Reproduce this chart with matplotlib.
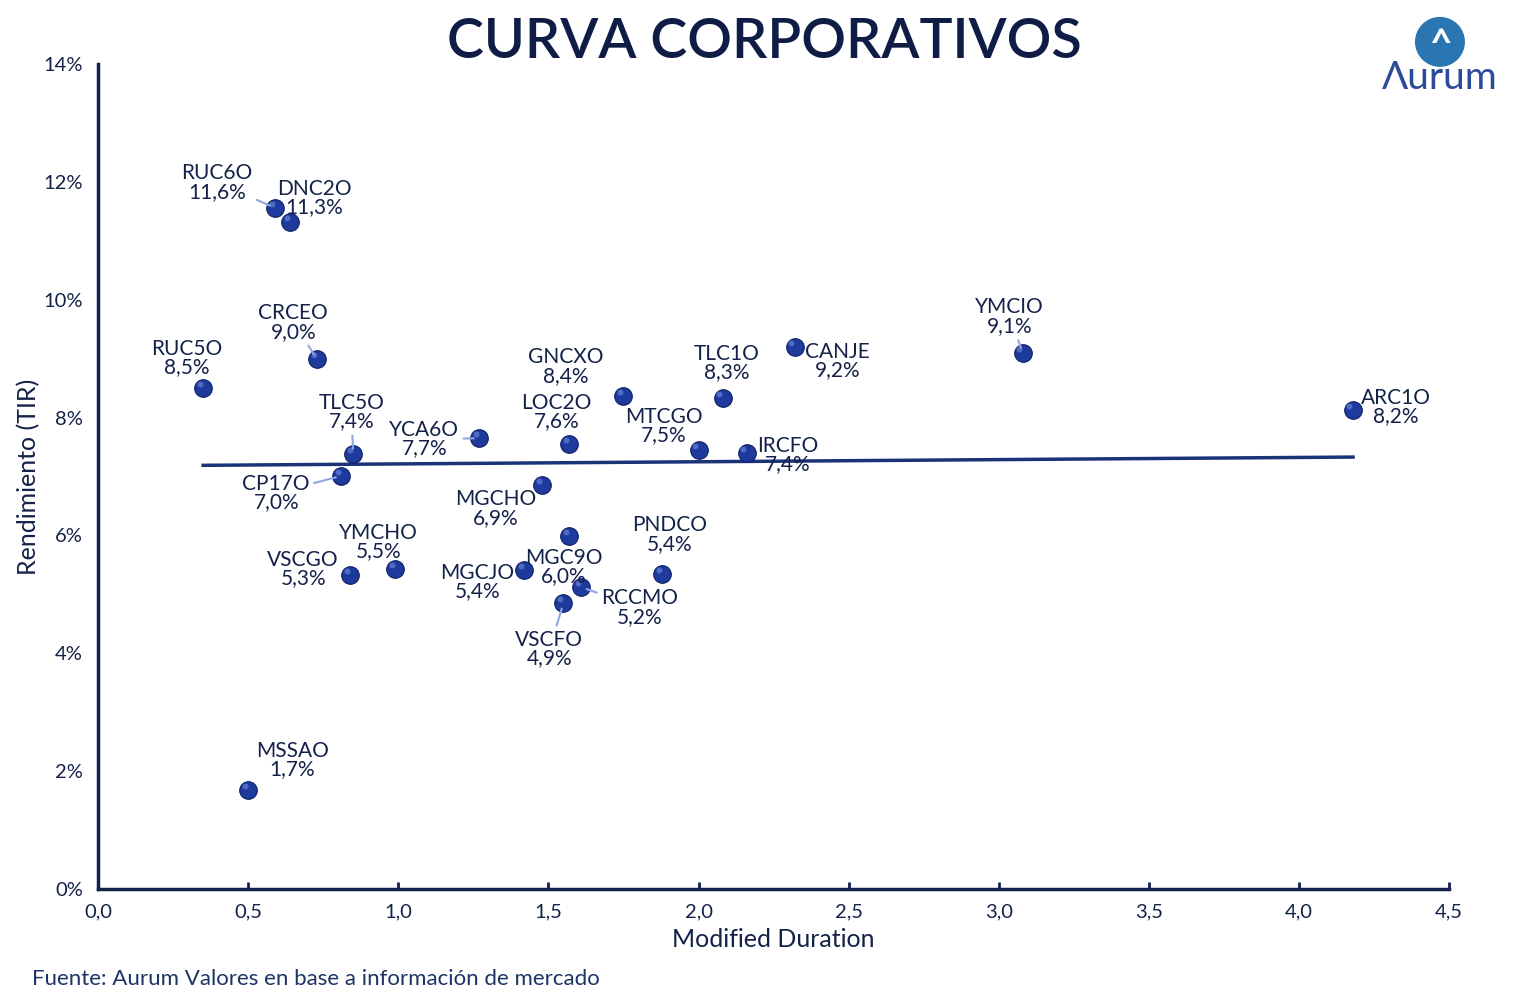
import matplotlib.pyplot as plt
from matplotlib.patches import Ellipse

plt.rcParams['font.family'] = ['Lato', 'DejaVu Sans']

# data
tickers = ['RUC6O', 'DNC2O', 'CRCEO', 'RUC5O', 'TLC5O', 'CP17O', 'YCA6O', 'LOC2O',
           'GNCXO', 'MTCGO', 'TLC1O', 'IRCFO', 'CANJE', 'YMCIO', 'ARC1O', 'MGCHO',
           'MGC9O', 'VSCGO', 'YMCHO', 'MGCJO', 'RCCMO', 'VSCFO', 'PNDCO', 'MSSAO']
duration = [0.59, 0.64, 0.73, 0.35, 0.85, 0.81, 1.27, 1.57,
            1.75, 2.00, 2.08, 2.16, 2.32, 3.08, 4.18, 1.48,
            1.57, 0.84, 0.99, 1.42, 1.61, 1.55, 1.88, 0.50]
tir = [11.56, 11.32, 8.99, 8.50, 7.38, 7.01, 7.65, 7.55,
       8.37, 7.45, 8.33, 7.40, 9.20, 9.10, 8.13, 6.86,
       5.99, 5.33, 5.43, 5.41, 5.12, 4.85, 5.35, 1.68]
tir_labels = ['11,6%', '11,3%', '9,0%', '8,5%', '7,4%', '7,0%', '7,7%', '7,6%',
              '8,4%', '7,5%', '8,3%', '7,4%', '9,2%', '9,1%', '8,2%', '6,9%',
              '6,0%', '5,3%', '5,5%', '5,4%', '5,2%', '4,9%', '5,4%', '1,7%']

trend_x = [0.35, 4.18]
trend_y = [7.19, 7.33]

# label placement (pixel offsets from the point), and which get a leader line
label_off = {
    'RUC6O': (-58, 25), 'DNC2O': (24, 24), 'CRCEO': (-24, 37), 'RUC5O': (-16, 30),
    'TLC5O': (-2, 42), 'CP17O': (-65, -17), 'YCA6O': (-55, -1), 'LOC2O': (-13, 32),
    'GNCXO': (-58, 29), 'MTCGO': (-35, 24), 'TLC1O': (4, 35), 'IRCFO': (41, -2),
    'CANJE': (43, -14), 'YMCIO': (-13, 36), 'ARC1O': (43, 3), 'MGCHO': (-47, -24),
    'MGC9O': (-6, -31), 'VSCGO': (-47, 6), 'YMCHO': (-17, 27), 'MGCJO': (-47, -12),
    'RCCMO': (58, -20), 'VSCFO': (-14, -46), 'PNDCO': (7, 39), 'MSSAO': (44, 30),
}
leaders = ['RUC6O', 'CRCEO', 'TLC5O', 'CP17O', 'YCA6O', 'YMCIO', 'VSCFO', 'RCCMO']

navy = '#14224a'
fig = plt.figure(figsize=(15.27, 9.97), dpi=100)
ax = fig.add_axes([0.0642, 0.1083, 0.8848, 0.8275])

ax.plot(trend_x, trend_y, color='#1b3478', lw=2.5, zorder=2)
ax.scatter(duration, tir, s=160, color='#1e3a9c', edgecolors='#0d1f66',
           linewidths=0.8, zorder=4)
ax.scatter([d - 0.012 for d in duration], [t + 0.07 for t in tir], s=18,
           color='#6f8ee0', alpha=0.6, linewidths=0, zorder=5)

for name, x, y, lab in zip(tickers, duration, tir, tir_labels):
    dx, dy = label_off[name]
    props = None
    if name in leaders:
        props = dict(arrowstyle='-', color='#8fa6e3', lw=1.5, shrinkA=1, shrinkB=4)
    ax.annotate(name + '\n' + lab, (x, y), xytext=(dx, dy), textcoords='offset pixels',
                ha='center', va='center', fontsize=15, color=navy,
                linespacing=0.92, arrowprops=props, zorder=6)

ax.set_xlim(0, 4.5)
ax.set_ylim(0, 14)
ax.set_xticks([i * 0.5 for i in range(10)])
ax.set_xticklabels([f'{i * 0.5:.1f}'.replace('.', ',') for i in range(10)])
ax.set_yticks(range(0, 15, 2))
ax.set_yticklabels([f'{v}%' for v in range(0, 15, 2)])
ax.tick_params(axis='x', direction='in', length=5, width=2, color=navy,
               labelsize=14.5, labelcolor=navy, pad=10)
ax.tick_params(axis='y', length=0, labelsize=14.5, labelcolor=navy, pad=11)
for side in ['top', 'right']:
    ax.spines[side].set_visible(False)
for side in ['left', 'bottom']:
    ax.spines[side].set_color(navy)
    ax.spines[side].set_linewidth(2.5)

ax.set_xlabel('Modified Duration', fontsize=18, color=navy, labelpad=6)
ax.set_ylabel('Rendimiento (TIR)', fontsize=18, color=navy)
ax.yaxis.set_label_coords(-0.043, 0.5)

fig.text(0.5003, 0.958, 'CURVA CORPORATIVOS', ha='center', va='center',
         fontsize=40, color='#0f1c45', fontweight='semibold')
fig.text(0.021, 0.018, 'Fuente: Aurum Valores en base a información de mercado',
         ha='left', va='center', fontsize=16, color='#1d3466')

# logo
fig.patches.append(Ellipse((0.9430, 0.958), 50 / 1527, 50 / 997,
                           transform=fig.transFigure, color='#2a76b2', ec='none'))
fig.text(0.9430, 0.955, '^', ha='center', va='center', fontsize=28,
         color='white', fontweight='bold')
fig.text(0.9430, 0.922, 'Ʌurum', ha='center', va='center', fontsize=28,
         color='#2b4a9a')

fig.savefig('out.png', dpi=100)
